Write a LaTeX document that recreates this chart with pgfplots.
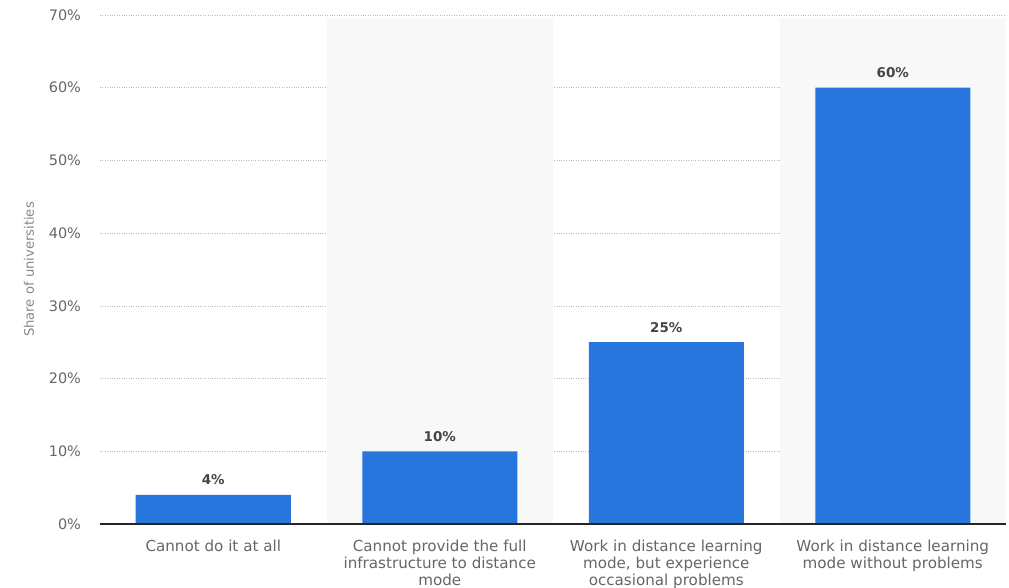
\documentclass[border=0pt]{standalone}
\usepackage{pgfplots}
\pgfplotsset{compat=1.18}
\usepackage{fontspec}
\setmainfont{DejaVu Sans}
\definecolor{barblue}{HTML}{2876DD}
\definecolor{band}{HTML}{F8F8F8}
\definecolor{ticktxt}{HTML}{666666}
\definecolor{labtxt}{HTML}{888888}
\definecolor{valtxt}{HTML}{444444}
\definecolor{gridc}{HTML}{BBBBBB}
\begin{document}
\begin{tikzpicture}
\begin{axis}[
  set layers,
  at={(0,0)}, anchor=south west,
  scale only axis, width=906bp, height=509bp,
  xmin=-0.5, xmax=3.5, ymin=0, ymax=70,
  clip=false,
  axis line style={draw=none},
  major tick length=0pt,
  ybar,
  bar width=155bp,
  xtick={0,1,2,3},
  xticklabels={{Cannot do it at all},{Cannot provide the full\\infrastructure to distance\\mode},{Work in distance learning\\mode, but experience\\occasional problems},{Work in distance learning\\mode without problems}},
  xticklabel style={font=\fontsize{15.2}{17}\selectfont, text=ticktxt, align=center, anchor=north, yshift=-12.5bp},
  ytick={0,10,...,70},
  yticklabel={\pgfmathprintnumber{\tick}\%},
  /pgf/number format/assume math mode=true,
  yticklabel style={font=\fontsize{14.5}{16}\selectfont, text=ticktxt, xshift=-15.5bp},
  ymajorgrids,
  grid style={dotted, gridc, line width=0.6bp},
  ylabel={Share of universities},
  ylabel style={font=\fontsize{13.2}{15}\selectfont, text=labtxt, at={(axis description cs:-0.0784,0.5)}, anchor=center},
  nodes near coords={\pgfmathprintnumber{\pgfplotspointmeta}\%},
  every node near coord/.append style={font=\bfseries\fontsize{13.5}{16}\selectfont, text=valtxt, anchor=center, yshift=15bp},
]
\fill[band, on layer=axis background] (axis cs:0.5,0) rectangle (axis cs:1.5,69.6);
\fill[band, on layer=axis background] (axis cs:2.5,0) rectangle (axis cs:3.5,69.6);
\addplot[fill=barblue, draw=none] coordinates {(0,4) (1,10) (2,25) (3,60)};
\draw[on layer=axis foreground, line width=1.3bp, color=black!85] (axis cs:-0.5,0) -- (axis cs:3.5,0);
\end{axis}
\pgfresetboundingbox
\path[use as bounding box] (-100bp,-64bp) rectangle (909bp,524bp);
\end{tikzpicture}
\end{document}
